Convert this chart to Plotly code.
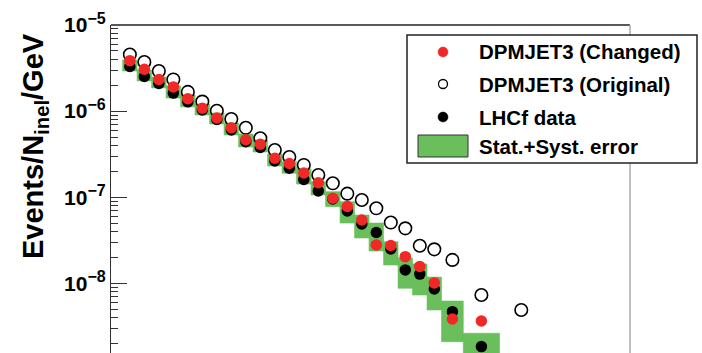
import plotly.graph_objects as go

# Energy bins [GeV]
bin_lo = [100, 200, 300, 400, 500, 600, 700, 800, 900, 1000, 1100, 1200,
          1300, 1400, 1500, 1600, 1700, 1800, 1900, 2000, 2100, 2200,
          2300, 2450, 2700]
bin_hi = [200, 300, 400, 500, 600, 700, 800, 900, 1000, 1100, 1200, 1300,
          1400, 1500, 1600, 1700, 1800, 1900, 2000, 2100, 2200, 2300,
          2450, 2700, 3000]

# Events/N_inel/GeV
lhcf = [3.30e-6, 2.52e-6, 2.09e-6, 1.62e-6, 1.28e-6, 1.03e-6, 7.99e-7, 6.03e-7,
        4.41e-7, 3.78e-7, 2.63e-7, 2.17e-7, 1.61e-7, 1.18e-7, 9.53e-8, 6.92e-8,
        4.88e-8, 3.89e-8, 2.50e-8, 1.43e-8, 1.28e-8, 8.59e-9, 4.68e-9, 1.84e-9]
lhcf_upper = [3.92e-6, 3.00e-6, 2.49e-6, 1.96e-6, 1.54e-6, 1.21e-6, 9.50e-7, 7.27e-7,
              5.42e-7, 4.62e-7, 3.18e-7, 2.58e-7, 2.13e-7, 1.51e-7, 1.16e-7, 8.87e-8,
              6.21e-8, 5.01e-8, 3.04e-8, 1.97e-8, 1.68e-8, 1.18e-8, 6.23e-9, 2.63e-9]
lhcf_lower = [2.92e-6, 2.24e-6, 1.86e-6, 1.42e-6, 1.12e-6, 9.01e-7, 7.08e-7, 5.28e-7,
              3.83e-7, 3.35e-7, 2.30e-7, 1.90e-7, 1.42e-7, 1.06e-7, 7.76e-8, 5.01e-8,
              3.36e-8, 2.37e-8, 1.63e-8, 8.75e-9, 7.31e-9, 4.90e-9, 2.10e-9, 9.85e-10]
dpm_changed = [3.85e-6, 3.06e-6, 2.33e-6, 1.91e-6, 1.39e-6, 1.08e-6, 8.32e-7, 6.40e-7,
               4.65e-7, 4.12e-7, 2.83e-7, 2.46e-7, 1.91e-7, 1.47e-7, 9.71e-8, 7.80e-8,
               5.44e-8, 2.79e-8, 2.75e-8, 2.04e-8, 1.57e-8, 1.01e-8, 3.85e-9, 3.65e-9]
dpm_original = [4.54e-6, 3.72e-6, 2.92e-6, 2.33e-6, 1.67e-6, 1.29e-6, 1.01e-6, 8.09e-7,
                6.40e-7, 4.83e-7, 3.53e-7, 2.93e-7, 2.37e-7, 1.81e-7, 1.45e-7, 1.10e-7,
                9.28e-8, 7.43e-8, 5.08e-8, 4.35e-8, 2.73e-8, 2.48e-8, 1.87e-8, 7.31e-9,
                4.90e-9]

y_tickvals = [1e-5, 1e-6, 1e-7, 1e-8]
y_exponents = ["\u22125", "\u22126", "\u22127", "\u22128"]

legend_labels = ["DPMJET3 (Changed)", "DPMJET3 (Original)", "LHCf data",
                 "Stat.+Syst. error"]

RED = "#f02828"
GREEN = "#6abf5c"
FONT = "Liberation Sans"

W, H = 702, 353
ML, MR, MT, MB = 111, 72, 25, 0
PW, PH = W - ML - MR, H - MT - MB

centers = [(a + b) / 2 for a, b in zip(bin_lo, bin_hi)]
y_ticktext = ['10<sup><span style="font-size:16px">%s</span></sup>' % e for e in y_exponents]


def px(x):
    return (x - ML) / PW


def py(y):
    return (H - MB - y) / PH


# error band as one polygon trace, one rectangle per bin
bx, by = [], []
for i in range(len(lhcf)):
    lo, hi = bin_lo[i], bin_hi[i]
    bx += [lo, hi, hi, lo, lo, None]
    by += [lhcf_lower[i], lhcf_lower[i], lhcf_upper[i], lhcf_upper[i], lhcf_lower[i], None]

fig = go.Figure()
fig.add_trace(go.Scatter(x=bx, y=by, mode="lines", fill="toself",
                         fillcolor=GREEN, line=dict(color=GREEN, width=0.6),
                         hoverinfo="skip"))
fig.add_trace(go.Scatter(x=centers[:len(lhcf)], y=lhcf, mode="markers",
                         marker=dict(symbol="circle", size=11.5, color="black")))
fig.add_trace(go.Scatter(x=centers, y=dpm_original, mode="markers",
                         marker=dict(symbol="circle-open", size=12.5, color="black",
                                     line=dict(width=1.6))))
fig.add_trace(go.Scatter(x=centers[:len(dpm_changed)], y=dpm_changed, mode="markers",
                         marker=dict(symbol="circle", size=11.5, color=RED)))

minor_vals = [m * 10.0 ** e for e in range(-9, -5) for m in range(2, 10)]

fig.update_layout(
    width=W, height=H,
    margin=dict(l=ML, r=MR, t=MT, b=MB),
    plot_bgcolor="white", paper_bgcolor="white",
    showlegend=False,
    xaxis=dict(range=[20, 3600], showticklabels=False, ticks="", showline=False,
               showgrid=False, zeroline=False),
    yaxis=dict(type="log", range=[-8.8095, -5.0],
               tickmode="array", tickvals=y_tickvals, ticktext=y_ticktext,
               ticks="inside", ticklen=16, tickwidth=1.3, tickcolor="#333",
               showline=True, linecolor="#333", linewidth=1.3,
               showgrid=False, zeroline=False,
               tickfont=dict(family=FONT, size=21, color="black", weight="bold"),
               minor=dict(ticks="inside", ticklen=7, tickwidth=1.1, tickcolor="#333",
                          tickmode="array", tickvals=minor_vals, showgrid=False)),
)

shapes = [
    # frame: top and right edges
    dict(type="line", xref="paper", yref="paper", x0=px(111), x1=px(630),
         y0=py(25), y1=py(25), line=dict(color="#222", width=1.5)),
    dict(type="line", xref="paper", yref="paper", x0=px(630), x1=px(630),
         y0=py(25), y1=py(353), line=dict(color="#aaaaaa", width=1.5)),
    # legend box
    dict(type="rect", xref="paper", yref="paper", x0=px(407), x1=px(697),
         y0=py(163), y1=py(35), fillcolor="white", line=dict(color="#222", width=1.5)),
]

# legend glyphs
leg_x = 443
leg_y = [52, 84, 117, 146]
r = 5
shapes.append(dict(type="circle", xref="paper", yref="paper",
                   x0=px(leg_x - r), x1=px(leg_x + r), y0=py(leg_y[0] + r), y1=py(leg_y[0] - r),
                   fillcolor=RED, line=dict(color=RED, width=0.5)))
shapes.append(dict(type="circle", xref="paper", yref="paper",
                   x0=px(leg_x - 4.5), x1=px(leg_x + 4.5), y0=py(leg_y[1] + 4.5), y1=py(leg_y[1] - 4.5),
                   fillcolor="white", line=dict(color="black", width=1.3)))
shapes.append(dict(type="circle", xref="paper", yref="paper",
                   x0=px(leg_x - r), x1=px(leg_x + r), y0=py(leg_y[2] + r), y1=py(leg_y[2] - r),
                   fillcolor="black", line=dict(color="black", width=0.5)))
shapes.append(dict(type="rect", xref="paper", yref="paper",
                   x0=px(418), x1=px(468), y0=py(157), y1=py(135),
                   fillcolor=GREEN, line=dict(color="#333", width=1)))

annotations = []
for label, yy in zip(legend_labels, leg_y):
    annotations.append(dict(text=label, xref="paper", yref="paper", x=px(477), y=py(yy),
                            xanchor="left", yanchor="middle", showarrow=False,
                            font=dict(family=FONT, size=20.5, color="black", weight="bold")))

# y-axis title
annotations.append(dict(text="Events/N<sub>inel</sub>/GeV", xref="paper", yref="paper",
                        x=px(35), y=py(146), xanchor="center", yanchor="middle",
                        textangle=-90, showarrow=False,
                        font=dict(family=FONT, size=29, color="black", weight="bold")))

fig.update_layout(shapes=shapes, annotations=annotations)

fig.write_html("out.html")
